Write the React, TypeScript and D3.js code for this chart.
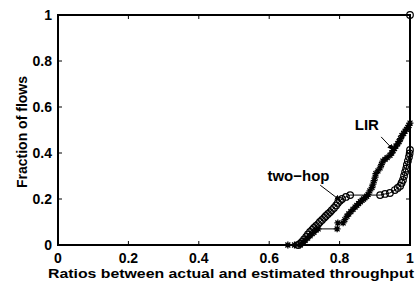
import React from "react";
import * as d3 from "d3";

// CDF points: [ratio, fraction]
const lirPoints: [number, number][] = [
  [0.653, 0], [0.672, 0], [0.688, 0], [0.696, 0.01], [0.702, 0.02], [0.709, 0.03],
  [0.716, 0.04], [0.722, 0.05], [0.727, 0.055], [0.733, 0.065], [0.739, 0.07],
  [0.793, 0.07], [0.795, 0.096], [0.81, 0.096], [0.815, 0.11], [0.821, 0.125],
  [0.826, 0.135], [0.832, 0.145], [0.838, 0.155], [0.844, 0.165], [0.849, 0.172],
  [0.854, 0.18], [0.859, 0.188], [0.864, 0.195], [0.868, 0.2], [0.872, 0.205],
  [0.877, 0.212], [0.881, 0.22], [0.886, 0.235], [0.892, 0.25], [0.895, 0.265],
  [0.898, 0.28], [0.901, 0.295], [0.903, 0.31], [0.909, 0.322], [0.915, 0.335],
  [0.919, 0.35], [0.923, 0.365], [0.929, 0.372], [0.935, 0.38], [0.943, 0.39],
  [0.948, 0.4], [0.952, 0.41], [0.956, 0.42], [0.96, 0.43], [0.965, 0.44],
  [0.969, 0.45], [0.973, 0.462], [0.977, 0.475], [0.982, 0.485], [0.986, 0.495],
  [0.99, 0.503], [0.994, 0.51], [0.997, 0.52], [1.0, 0.53],
];

const twoHopPoints: [number, number][] = [
  [0.682, 0], [0.688, 0.006], [0.693, 0.013], [0.699, 0.024], [0.705, 0.035],
  [0.71, 0.046], [0.716, 0.057], [0.722, 0.066], [0.727, 0.074], [0.733, 0.083],
  [0.739, 0.091], [0.744, 0.1], [0.75, 0.109], [0.756, 0.118], [0.761, 0.126],
  [0.767, 0.135], [0.773, 0.143], [0.778, 0.152], [0.784, 0.161], [0.79, 0.172],
  [0.795, 0.183], [0.801, 0.192], [0.807, 0.2], [0.818, 0.209], [0.83, 0.217],
  [0.915, 0.217], [0.929, 0.222], [0.943, 0.226], [0.957, 0.239], [0.965, 0.248],
  [0.972, 0.257], [0.976, 0.27], [0.98, 0.283], [0.983, 0.3], [0.986, 0.317],
  [0.989, 0.332], [0.991, 0.348], [0.994, 0.365], [0.997, 0.383], [0.999, 0.398],
  [1.0, 0.413], [1.0, 1.0],
];

const xTicks = [0, 0.2, 0.4, 0.6, 0.8, 1];
const yTicks = [0, 0.2, 0.4, 0.6, 0.8, 1];
const xTickLabels = ["0", "0.2", "0.4", "0.6", "0.8", "1"];
const yTickLabels = ["0", "0.2", "0.4", "0.6", "0.8", "1"];

const W = 417;
const H = 282;
const margin = { left: 58, right: 7, top: 15, bottom: 37 };
const font = "'Liberation Sans', Arial, Helvetica, sans-serif";

export default function App() {
  const x = d3.scaleLinear().domain([0, 1]).range([margin.left, W - margin.right]);
  const y = d3.scaleLinear().domain([0, 1]).range([H - margin.bottom, margin.top]);
  const line = d3
    .line<[number, number]>()
    .x((d) => x(d[0]))
    .y((d) => y(d[1]));

  const x0 = x(0);
  const x1 = x(1);
  const y0 = y(0);
  const y1 = y(1);
  const tickLen = 4;

  const star = (cx: number, cy: number, key: number) => {
    const s = 3.4;
    const d = s * 0.72;
    return (
      <path
        key={key}
        d={`M${cx - s},${cy}H${cx + s}M${cx},${cy - s}V${cy + s}M${cx - d},${cy - d}L${cx + d},${cy + d}M${cx - d},${cy + d}L${cx + d},${cy - d}`}
        stroke="#000"
        strokeWidth={1.3}
        fill="none"
      />
    );
  };

  return (
    <svg
      width={W}
      height={H}
      style={{ position: "absolute", left: 0, top: 0, background: "#fff" }}
      fontFamily={font}
      fontWeight="bold"
    >
      <rect x={0} y={0} width={W} height={H} fill="#fff" />

      {/* curves */}
      <path d={line(twoHopPoints) ?? ""} fill="none" stroke="#000" strokeWidth={1} />
      <path d={line(lirPoints) ?? ""} fill="none" stroke="#000" strokeWidth={1} />
      {twoHopPoints.map((p, i) => (
        <circle key={i} cx={x(p[0])} cy={y(p[1])} r={3.3} fill="none" stroke="#000" strokeWidth={1.2} />
      ))}
      {lirPoints.map((p, i) => star(x(p[0]), y(p[1]), i))}

      {/* box */}
      <rect x={x0} y={y1} width={x1 - x0} height={y0 - y1} fill="none" stroke="#000" strokeWidth={2} />

      {/* ticks */}
      {xTicks.map((t, i) => (
        <g key={"xt" + i}>
          <line x1={x(t)} x2={x(t)} y1={y0} y2={y0 - tickLen} stroke="#000" strokeWidth={1} />
          <line x1={x(t)} x2={x(t)} y1={y1} y2={y1 + tickLen} stroke="#000" strokeWidth={1} />
          <text x={x(t)} y={y0 + 18} fontSize={14} textAnchor="middle">
            {xTickLabels[i]}
          </text>
        </g>
      ))}
      {yTicks.map((t, i) => (
        <g key={"yt" + i}>
          <line x1={x0} x2={x0 + tickLen} y1={y(t)} y2={y(t)} stroke="#000" strokeWidth={1} />
          <line x1={x1} x2={x1 - tickLen} y1={y(t)} y2={y(t)} stroke="#000" strokeWidth={1} />
          <text x={x0 - 6} y={y(t) + 5} fontSize={14} textAnchor="end">
            {yTickLabels[i]}
          </text>
        </g>
      ))}

      {/* axis titles */}
      <text
        x={48}
        y={H - 4}
        fontSize={13.5}
        textAnchor="start"
        textLength={366}
        lengthAdjust="spacingAndGlyphs"
      >
        Ratios between actual and estimated throughput
      </text>
      <text
        transform={`translate(27,${(y0 + y1) / 2 + 2}) rotate(-90)`}
        fontSize={14}
        textAnchor="middle"
      >
        Fraction of flows
      </text>

      {/* annotations */}
      <defs>
        <marker id="ah" viewBox="0 0 10 10" refX={10} refY={5} markerWidth={7} markerHeight={7} orient="auto">
          <path d="M0,1L10,5L0,9z" fill="#000" />
        </marker>
      </defs>
      <text x={x(0.843)} y={y(0.5)} fontSize={15} textAnchor="start">
        LIR
      </text>
      <line x1={x(0.918)} y1={y(0.47)} x2={x(0.955)} y2={y(0.41)} stroke="#000" strokeWidth={1} markerEnd="url(#ah)" />
      <text x={x(0.595)} y={y(0.28)} fontSize={15} textAnchor="start">
        two−hop
      </text>
      <line x1={x(0.745)} y1={y(0.26)} x2={x(0.805)} y2={y(0.19)} stroke="#000" strokeWidth={1} markerEnd="url(#ah)" />
    </svg>
  );
}
